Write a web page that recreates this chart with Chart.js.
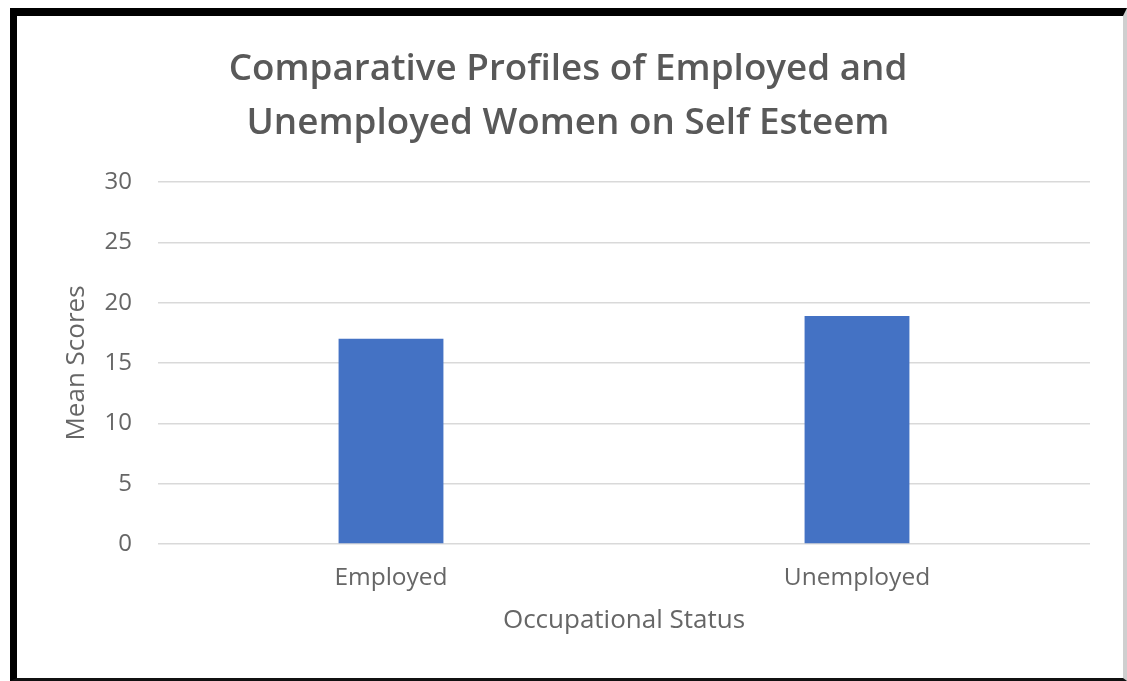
<!DOCTYPE html>
<html>
<head>
<meta charset="utf-8">
<script src="https://cdn.jsdelivr.net/npm/chart.js@4.4.1/dist/chart.umd.min.js"></script>
<style>
  html, body { margin: 0; padding: 0; background: #ffffff; width: 1127px; height: 681px; overflow: hidden; }
  #frame {
    position: absolute; left: 10px; top: 8px;
    width: 1106px; height: 662px;
    border-top: 8px solid #000; border-left: 7px solid #000;
    border-bottom: 3px solid #111; border-right: 4px solid #cfcfcf;
    background: #fff;
  }
  #frame canvas { display: block; }
</style>
</head>
<body>
<div id="frame"><canvas id="c"></canvas></div>
<script>
const categories = ["Employed", "Unemployed"];
const meanScores = [17, 18.9];
const titleLines = ["Comparative Profiles of Employed and", "Unemployed Women on Self Esteem"];
const yTitle = "Mean Scores";
const xTitle = "Occupational Status";
const yMin = 0, yMax = 30, yStep = 5;

const FONT = "'Open Sans', 'Noto Sans', sans-serif";

new Chart(document.getElementById('c'), {
  type: 'bar',
  data: {
    labels: categories,
    datasets: [{
      label: yTitle,
      data: meanScores,
      backgroundColor: '#4472C4',
      borderWidth: 0,
      barPercentage: 0.225,
      categoryPercentage: 1.0
    }]
  },
  options: {
    responsive: true,
    maintainAspectRatio: false,
    animation: false,
    layout: { padding: { left: 29, right: 33, top: 0, bottom: 42 } },
    plugins: {
      legend: { display: false },
      tooltip: { enabled: false },
      title: {
        display: true,
        text: titleLines,
        color: '#595959',
        font: { family: FONT, size: 36.8, weight: '600', lineHeight: '54px' },
        padding: { top: 27, bottom: 31 }
      }
    },
    scales: {
      x: {
        grid: { display: false, drawTicks: false },
        border: { display: false },
        ticks: { color: '#666666', font: { family: FONT, size: 24.5 }, padding: 19, maxRotation: 0 },
        title: { display: true, text: xTitle, color: '#666666', font: { family: FONT, size: 26, lineHeight: 1.2 }, padding: { top: 0, bottom: 0 } },
        afterFit: (s) => { s.height = 92; }
      },
      y: {
        min: yMin, max: yMax,
        grid: { color: '#d9d9d9', lineWidth: 1.5, drawTicks: false },
        border: { display: false },
        ticks: { stepSize: yStep, color: '#666666', font: { family: FONT, size: 24 }, padding: 26 },
        title: { display: true, text: yTitle, color: '#666666', font: { family: FONT, size: 26, lineHeight: 1.2 }, padding: { top: 15, bottom: 0 } },
        afterFit: (s) => { s.width = 112; }
      }
    }
  }
});
</script>
</body>
</html>
